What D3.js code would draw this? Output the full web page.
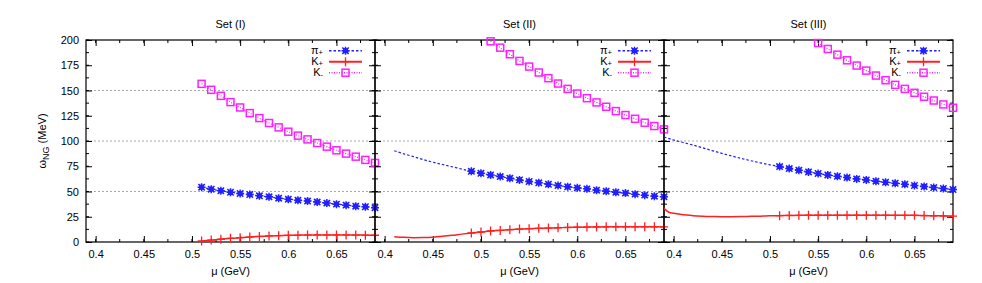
<!DOCTYPE html>
<html>
<head>
<meta charset="utf-8">
<script src="https://cdn.jsdelivr.net/npm/d3@7"></script>
<style>
  body { margin: 0; background: #fff; }
  text { font-family: "Liberation Sans", Arial, sans-serif; }
</style>
</head>
<body>
<div id="chart"></div>
<script>
// data (mu in GeV, omega in MeV)
const muMarks = [0.51,0.52,0.53,0.54,0.55,0.56,0.57,0.58,0.59,0.60,0.61,0.62,0.63,0.64,0.65,0.66,0.67,0.68,0.69];
const muSet2 = [0.41,0.42,0.43,0.44,0.45,0.46,0.47,0.48,0.49,0.50,0.51,0.52,0.53,0.54,0.55,0.56,0.57,0.58,0.59,0.60,0.61,0.62,0.63,0.64,0.65,0.66,0.67,0.68,0.69];
const muSet3 = [0.39,0.40,0.41,0.42,0.43,0.44,0.45,0.46,0.47,0.48,0.49,0.50,0.51,0.52,0.53,0.54,0.55,0.56,0.57,0.58,0.59,0.60,0.61,0.62,0.63,0.64,0.65,0.66,0.67,0.68,0.69];
const muSet3K = [0.39,0.395,0.40,0.41,0.42,0.43,0.44,0.45,0.46,0.47,0.48,0.49,0.50,0.51,0.52,0.53,0.54,0.55,0.56,0.57,0.58,0.59,0.60,0.61,0.62,0.63,0.64,0.65,0.66,0.67,0.68,0.69];
const muSet3Km = [0.55,0.56,0.57,0.58,0.59,0.60,0.61,0.62,0.63,0.64,0.65,0.66,0.67,0.68,0.69];

const set1PiPlus = [54.3,52.3,50.7,49.3,48.0,47.0,45.7,44.7,43.4,42.4,41.4,40.5,39.5,38.5,37.5,36.5,35.5,34.9,33.9];
const set1KPlus  = [1.0,1.9,2.7,3.6,4.3,4.9,5.5,6.0,6.3,6.6,6.8,6.9,7.0,7.0,7.0,7.0,6.9,6.8,6.7];
const set1KMinus = [156.6,150.7,144.7,138.5,133.2,127.6,122.7,117.8,113.5,109.2,105.3,101.6,98.0,94.4,90.8,87.5,84.5,81.3,78.3];

const set2PiPlus = [90.4,87.3,84.5,81.6,79.0,76.7,74.5,72.2,70.0,68.1,66.4,64.8,63.2,61.5,59.9,58.6,57.2,55.9,54.6,53.6,52.6,51.3,50.3,49.3,48.4,47.4,46.4,45.4,44.7];
const set2KPlus  = [5.3,4.6,4.3,4.4,4.8,5.6,6.6,7.8,8.9,9.9,10.9,11.5,12.2,12.8,13.2,13.5,13.8,14.1,14.4,14.6,14.8,14.9,15.0,15.0,15.0,15.0,15.0,15.0,14.9];
const set2KMinus = [198.7,192.4,185.9,179.3,173.7,167.8,162.2,156.9,151.6,147.0,142.4,138.2,133.9,129.6,125.7,122.0,118.1,114.8,111.5];

const set3PiPlus = [104,101,98.5,96,93.3,90.5,87.8,85.2,82.8,80.5,78.4,76.4,74.7,72.7,71.1,69.4,67.8,66.4,65.1,63.8,62.5,61.5,60.2,59.2,58.2,57.2,55.9,54.9,53.9,53.0,52.0];
const set3KPlus  = [33.3,29.4,28.4,26.9,26.1,25.6,25.3,25.1,25.1,25.2,25.4,25.6,25.9,26.1,26.3,26.4,26.5,26.5,26.5,26.5,26.5,26.5,26.5,26.5,26.5,26.4,26.4,26.4,26.2,26.0,25.8,25.6];
const set3KMinus = [197,191.1,185.5,179.9,174.7,169.7,164.8,160.2,155.6,151.6,147.7,143.8,140.1,136.2,132.9];

const titles = ["Set (I)", "Set (II)", "Set (III)"];
const xTicks = [0.4, 0.45, 0.5, 0.55, 0.6, 0.65];
const xMinor = [0.4,0.425,0.45,0.475,0.5,0.525,0.55,0.575,0.6,0.625,0.65,0.675];
const yTicks = [0, 25, 50, 75, 100, 125, 150, 175, 200];
const yMinor = d3.range(0, 201, 12.5);
const yGrid = [50, 100, 150];

const zip = (xs, ys) => xs.map((x, i) => ({mu: x, w: ys[i]}));

const panels = [
  {title: titles[0], series: [
    {key: "pi", data: zip(muMarks, set1PiPlus), from: 0.51},
    {key: "kp", data: zip(muMarks, set1KPlus), from: 0.51},
    {key: "km", data: zip(muMarks, set1KMinus), from: 0.51}]},
  {title: titles[1], series: [
    {key: "pi", data: zip(muSet2, set2PiPlus), from: 0.49},
    {key: "kp", data: zip(muSet2, set2KPlus), from: 0.49},
    {key: "km", data: zip(muMarks, set2KMinus), from: 0.51}]},
  {title: titles[2], series: [
    {key: "pi", data: zip(muSet3, set3PiPlus), from: 0.51},
    {key: "kp", data: zip(muSet3K, set3KPlus), from: 0.51},
    {key: "km", data: zip(muSet3Km, set3KMinus), from: 0.55}]}
];

const styles = {
  pi: {color: "#1f1fff", dash: "2.5,2", width: 1.2, label: ["π", "+"]},
  kp: {color: "#ff2020", dash: null, width: 1.5, label: ["K", "+"]},
  km: {color: "#ff20ff", dash: "1,1.5", width: 1.2, label: ["K", "-"]}
};

const W = 982, H = 283;
const mLeft = 86, mTop = 40, pw = 289, ph = 202;

const svg = d3.select("#chart").append("svg")
  .attr("width", W).attr("height", H);

const x = d3.scaleLinear().domain([0.39, 0.69]).range([0, pw]);
const y = d3.scaleLinear().domain([0, 200]).range([ph, 0]);

function marker(g, key, color) {
  if (key === "pi") {
    g.append("rect").attr("x", -2.5).attr("y", -2.5).attr("width", 5).attr("height", 5).attr("fill", color);
    g.append("path").attr("d", "M-4,0H4M0,-4V4M-3.2,-3.2L3.2,3.2M-3.2,3.2L3.2,-3.2")
      .attr("stroke", color).attr("stroke-width", 1.5);
  } else if (key === "kp") {
    g.append("path").attr("d", "M-4,0H4M0,-4.5V4.5")
      .attr("stroke", color).attr("stroke-width", 1.3);
  } else {
    g.append("rect").attr("x", -3.5).attr("y", -3.5).attr("width", 7).attr("height", 7)
      .attr("fill", "none").attr("stroke", color).attr("stroke-width", 1.5);
  }
}

const line = d3.line().x(d => x(d.mu)).y(d => y(d.w)).curve(d3.curveMonotoneX);

panels.forEach((p, i) => {
  const g = svg.append("g").attr("transform", `translate(${mLeft + i * pw},${mTop})`);

  g.append("clipPath").attr("id", "clip" + i)
    .append("rect").attr("width", pw).attr("height", ph);

  // grid
  g.selectAll(".grid").data(yGrid).join("line")
    .attr("x1", 0).attr("x2", pw)
    .attr("y1", d => y(d)).attr("y2", d => y(d))
    .attr("stroke", "#aaa").attr("stroke-width", 1).attr("stroke-dasharray", "2,2");

  // minor ticks
  const minorX = g.append("g");
  xMinor.forEach(v => {
    minorX.append("line").attr("x1", x(v)).attr("x2", x(v)).attr("y1", ph).attr("y2", ph - 3).attr("stroke", "#000");
    minorX.append("line").attr("x1", x(v)).attr("x2", x(v)).attr("y1", 0).attr("y2", 3).attr("stroke", "#000");
  });
  yMinor.forEach(v => {
    minorX.append("line").attr("x1", 0).attr("x2", 3).attr("y1", y(v)).attr("y2", y(v)).attr("stroke", "#000");
    minorX.append("line").attr("x1", pw).attr("x2", pw - 3).attr("y1", y(v)).attr("y2", y(v)).attr("stroke", "#000");
  });

  // axes
  g.append("g").attr("transform", `translate(0,${ph})`)
    .call(d3.axisBottom(x).tickValues(xTicks).tickFormat(d => String(d)).tickSizeInner(-6).tickSizeOuter(0).tickPadding(8));
  g.append("g").call(d3.axisTop(x).tickValues(xTicks).tickFormat("").tickSizeInner(-6).tickSizeOuter(0));
  g.append("g")
    .call(d3.axisLeft(y).tickValues(yTicks).tickFormat(i === 0 ? (d => d) : "").tickSizeInner(-6).tickSizeOuter(0).tickPadding(7));
  g.append("g").attr("transform", `translate(${pw},0)`)
    .call(d3.axisRight(y).tickValues(yTicks).tickFormat("").tickSizeInner(-6).tickSizeOuter(0));
  g.selectAll(".domain").remove();
  g.selectAll(".tick text").attr("font-size", 11).attr("fill", "#000")
    .attr("font-family", '"Liberation Sans", Arial, sans-serif');

  // frame
  g.append("rect").attr("width", pw).attr("height", ph)
    .attr("fill", "none").attr("stroke", "#000").attr("stroke-width", 1.2);

  // series
  p.series.forEach(s => {
    const st = styles[s.key];
    g.append("path").datum(s.data)
      .attr("clip-path", `url(#clip${i})`)
      .attr("d", line)
      .attr("fill", "none").attr("stroke", st.color)
      .attr("stroke-width", st.width)
      .attr("stroke-dasharray", st.dash);
    g.selectAll(null).data(s.data.filter(d => d.mu >= s.from - 1e-9)).join("g")
      .attr("transform", d => `translate(${x(d.mu)},${y(d.w)})`)
      .each(function() { marker(d3.select(this), s.key, st.color); });
  });

  // legend
  ["pi", "kp", "km"].forEach((k, j) => {
    const st = styles[k];
    const ly = 10.7 + j * 11;
    const lg = g.append("g");
    lg.append("line").attr("x1", pw - 46).attr("x2", pw - 13).attr("y1", ly).attr("y2", ly)
      .attr("stroke", st.color).attr("stroke-width", k === "kp" ? 2 : 1.5)
      .attr("stroke-dasharray", st.dash);
    const mg = lg.append("g").attr("transform", `translate(${pw - 29.5},${ly})`);
    marker(mg, k, st.color);
    const t = lg.append("text").attr("x", pw - 52).attr("y", ly + 3)
      .attr("text-anchor", "end").attr("font-size", 11);
    t.append("tspan").text(st.label[0]);
    t.append("tspan").attr("dy", 1).attr("font-size", 7.5).text(st.label[1]);
  });

  // title and x label
  svg.append("text").attr("x", mLeft + i * pw + pw / 2).attr("y", 28)
    .attr("text-anchor", "middle").attr("font-size", 11).text(p.title);
  svg.append("text").attr("x", mLeft + i * pw + pw / 2).attr("y", 275)
    .attr("text-anchor", "middle").attr("font-size", 11).text("μ (GeV)");
});

// y label
const yLab = svg.append("text")
  .attr("transform", `translate(46,${mTop + ph / 2}) rotate(-90)`)
  .attr("text-anchor", "middle").attr("font-size", 11);
yLab.append("tspan").text("ω");
yLab.append("tspan").attr("dy", 3).attr("font-size", 9).text("NG");
yLab.append("tspan").attr("dy", -3).text(" (MeV)");
</script>
</body>
</html>
